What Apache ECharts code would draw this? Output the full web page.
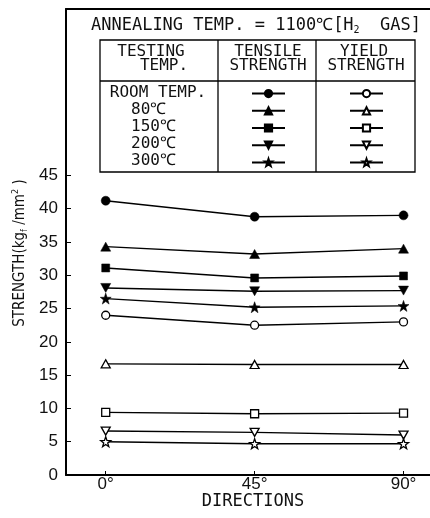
<!DOCTYPE html>
<html>
<head>
<meta charset="utf-8">
<script src="https://cdn.jsdelivr.net/npm/echarts@6/dist/echarts.min.js"></script>
<style>
html,body{margin:0;padding:0;background:#fff;}
#chart{width:430px;height:518px;}
</style>
</head>
<body>
<div id="chart"></div>
<script>
// ---- data ----
const directions = [0, 45, 90];
const xTickLabels = [0, 45, 90];
const yTickLabels = [0, 5, 10, 15, 20, 25, 30, 35, 40, 45];

const tensileRT  = [41.2, 38.8, 39.0];
const tensile80  = [34.3, 33.2, 34.0];
const tensile150 = [31.1, 29.6, 29.9];
const tensile200 = [28.1, 27.6, 27.7];
const tensile300 = [26.5, 25.2, 25.4];

const yieldRT  = [24.0, 22.5, 23.0];
const yield80  = [16.7, 16.6, 16.6];
const yield150 = [9.4, 9.2, 9.3];
const yield200 = [6.6, 6.4, 6.0];
const yield300 = [5.0, 4.7, 4.7];

const testingTemps = ['ROOM TEMP.', '80℃', '150℃', '200℃', '300℃'];

// ---- symbols ----
const STAR = 'path://M10,0 L12.35,6.76 L19.51,6.91 L13.80,11.24 L15.88,18.09 L10,14 L4.12,18.09 L6.20,11.24 L0.49,6.91 L7.65,6.76 Z';
const INV_TRI = 'path://M0,0 L10,0 L5,9 Z';
const TRI = 'path://M5,0 L10,9 L0,9 Z';

function makeSeries(name, values, symbol, filled, size) {
  return {
    name: name,
    type: 'line',
    data: directions.map((d, i) => [d, values[i]]),
    symbol: symbol,
    symbolSize: size,
    showAllSymbol: true,
    lineStyle: { color: '#000', width: 1.4 },
    itemStyle: filled
      ? { color: '#000', borderColor: '#000', borderWidth: 0.5 }
      : { color: '#fff', borderColor: '#000', borderWidth: 1.3 },
    emphasis: { disabled: true },
    z: filled ? 3 : 4
  };
}

const tensileNames = ['T-RT', 'T-80', 'T-150', 'T-200', 'T-300'];
const yieldNames = ['Y-RT', 'Y-80', 'Y-150', 'Y-200', 'Y-300'];

const series = [
  makeSeries('T-RT', tensileRT, 'circle', true, 9),
  makeSeries('T-80', tensile80, TRI, true, [10, 9]),
  makeSeries('T-150', tensile150, 'rect', true, 8),
  makeSeries('T-200', tensile200, INV_TRI, true, [10, 9]),
  makeSeries('T-300', tensile300, STAR, true, 11),
  makeSeries('Y-RT', yieldRT, 'circle', false, 8),
  makeSeries('Y-80', yield80, TRI, false, [9, 8]),
  makeSeries('Y-150', yield150, 'rect', false, 8),
  makeSeries('Y-200', yield200, INV_TRI, false, [9, 8]),
  makeSeries('Y-300', yield300, STAR, false, 10)
];

const MONO = '"DejaVu Sans Mono", "Liberation Mono", monospace';
const SANS = '"Liberation Sans", Arial, sans-serif';
const NARROW = '"Liberation Sans Narrow", "DejaVu Sans Condensed", "Liberation Sans", sans-serif';

function txt(x, y, text, size, align) {
  return {
    type: 'text', x: x, y: y, z: 10,
    style: {
      text: text, fill: '#111',
      font: size + 'px ' + MONO,
      textAlign: align || 'center', textVerticalAlign: 'middle'
    }
  };
}

const graphics = [
  {
    type: 'text', x: 256, y: 26, z: 10,
    style: {
      text: '{a|ANNEALING TEMP. = 1100℃[H}{s|2}{a|  GAS]}',
      textAlign: 'center', textVerticalAlign: 'middle',
      rich: {
        a: { fontFamily: MONO, fontSize: 17, fill: '#111', lineHeight: 18 },
        s: { fontFamily: MONO, fontSize: 10, fill: '#111', verticalAlign: 'bottom', lineHeight: 18 }
      }
    }
  },
  { type: 'rect', z: 9, shape: { x: 100, y: 40, width: 315, height: 132 },
    style: { fill: 'none', stroke: '#000', lineWidth: 1.3 } },
  { type: 'line', z: 9, shape: { x1: 100, y1: 81, x2: 415, y2: 81 }, style: { stroke: '#000', lineWidth: 1.3 } },
  { type: 'line', z: 9, shape: { x1: 218, y1: 40, x2: 218, y2: 172 }, style: { stroke: '#000', lineWidth: 1.3 } },
  { type: 'line', z: 9, shape: { x1: 316, y1: 40, x2: 316, y2: 172 }, style: { stroke: '#000', lineWidth: 1.3 } },
  txt(151, 52, 'TESTING', 16),
  txt(164, 66, 'TEMP.', 16),
  txt(268, 52, 'TENSILE', 16),
  txt(268, 66, 'STRENGTH', 16),
  txt(364, 52, 'YIELD', 16),
  txt(366, 66, 'STRENGTH', 16),
  txt(158, 93, testingTemps[0], 16),
  txt(131, 110, testingTemps[1], 16, 'left'),
  txt(131, 127, testingTemps[2], 16, 'left'),
  txt(131, 144, testingTemps[3], 16, 'left'),
  txt(131, 161, testingTemps[4], 16, 'left'),
  txt(253, 502, 'DIRECTIONS', 17),
  {
    type: 'text', x: 20, y: 253, rotation: Math.PI / 2, z: 10,
    style: {
      text: '{a|STRENGTH(kg}{s|f}{a| /mm}{p|2}{a| )}',
      textAlign: 'center', textVerticalAlign: 'middle',
      rich: {
        a: { fontFamily: NARROW, fontSize: 15, fill: '#111', lineHeight: 18 },
        s: { fontFamily: NARROW, fontSize: 9, fill: '#111', verticalAlign: 'bottom', lineHeight: 18 },
        p: { fontFamily: NARROW, fontSize: 9, fill: '#111', verticalAlign: 'top', lineHeight: 18 }
      }
    }
  }
];

function legendCfg(names, left) {
  return {
    data: names,
    orient: 'vertical',
    left: left, top: 89,
    padding: 0,
    itemWidth: 33, itemHeight: 9, itemGap: 8,
    selectedMode: false,
    formatter: function () { return ''; },
    textStyle: { fontSize: 1, lineHeight: 1, padding: 0 }
  };
}

const option = {
  animation: false,
  backgroundColor: '#fff',
  grid: { left: 66, right: 0, top: 9, bottom: 43, containLabel: false },
  legend: [legendCfg(tensileNames, 251), legendCfg(yieldNames, 349)],
  xAxis: [
    {
      type: 'value', min: -12, max: 98,
      axisLine: { show: true, onZero: false, lineStyle: { color: '#000', width: 2 } },
      axisTick: { show: true, inside: true, length: 4, customValues: xTickLabels, lineStyle: { color: '#000', width: 1 } },
      axisLabel: {
        customValues: xTickLabels, margin: 1,
        formatter: function (v) { return v + '°'; },
        fontFamily: SANS, fontSize: 17, color: '#111'
      },
      splitLine: { show: false }
    },
    {
      type: 'value', min: -12, max: 98, position: 'top',
      axisLine: { show: true, onZero: false, lineStyle: { color: '#000', width: 2 } },
      axisTick: { show: false }, axisLabel: { show: false }, splitLine: { show: false }
    }
  ],
  yAxis: {
    type: 'value', min: 0, max: 70,
    axisLine: { show: true, onZero: false, lineStyle: { color: '#000', width: 2 } },
    axisTick: { show: true, inside: true, length: 5, customValues: yTickLabels, lineStyle: { color: '#000', width: 1 } },
    axisLabel: {
      customValues: yTickLabels, margin: 8,
      fontFamily: SANS, fontSize: 17, color: '#111'
    },
    splitLine: { show: false }
  },
  graphic: graphics,
  series: series
};

const chart = echarts.init(document.getElementById('chart'), null, { renderer: 'canvas' });
chart.setOption(option);
</script>
</body>
</html>
